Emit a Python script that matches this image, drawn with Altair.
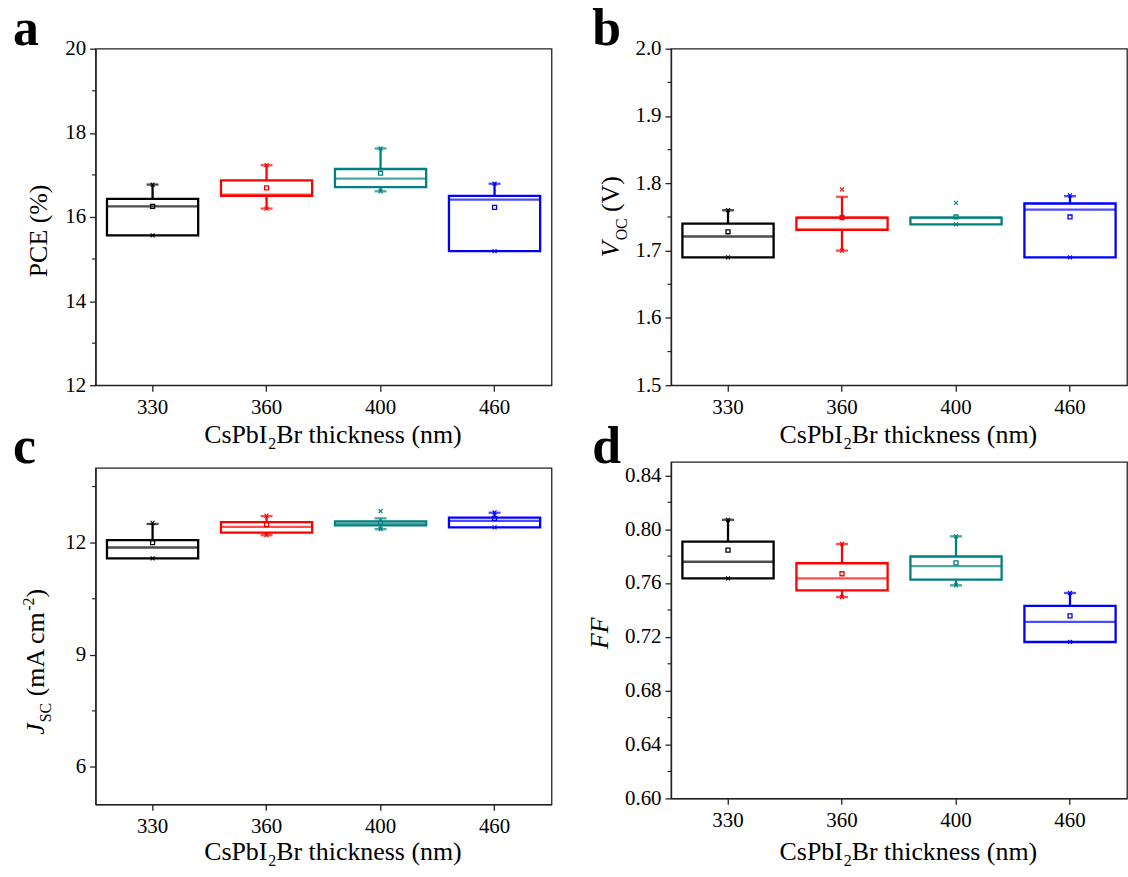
import altair as alt
import pandas as pd

FONT = "Liberation Serif"
W, H = 458, 338
BOXW = 0.8 * W / 4

cats = ["330", "360", "400", "460"]
colors = ["#000000", "#FF0000", "#008080", "#0000FF"]

# (a) PCE (%)
pce_q1 = [15.56, 16.50, 16.71, 15.19]
pce_med = [16.25, 16.53, 16.91, 16.41]
pce_q3 = [16.43, 16.87, 17.14, 16.50]
pce_wlo = [15.56, 16.20, 16.61, 15.19]
pce_whi = [16.77, 17.23, 17.63, 16.79]
pce_mean = [16.25, 16.69, 17.04, 16.23]
pce_min = [15.56, 16.20, 16.61, 15.19]
pce_max = [16.77, 17.23, 17.63, 16.79]

# (b) Voc (V)
voc_q1 = [1.690, 1.731, 1.739, 1.690]
voc_med = [1.721, 1.749, 1.749, 1.761]
voc_q3 = [1.740, 1.749, 1.749, 1.770]
voc_wlo = [1.690, 1.700, 1.739, 1.690]
voc_whi = [1.760, 1.780, 1.749, 1.781]
voc_mean = [1.728, 1.749, 1.750, 1.750]
voc_min = [1.690, 1.700, 1.739, 1.690]
voc_max = [1.760, 1.791, 1.771, 1.782]

# (c) Jsc (mA cm-2)
jsc_q1 = [11.58, 12.27, 12.46, 12.41]
jsc_med = [11.87, 12.42, 12.51, 12.58]
jsc_q3 = [12.07, 12.55, 12.57, 12.67]
jsc_wlo = [11.58, 12.20, 12.36, 12.41]
jsc_whi = [12.50, 12.71, 12.65, 12.80]
jsc_mean = [12.00, 12.48, 12.52, 12.65]
jsc_min = [11.58, 12.20, 12.36, 12.41]
jsc_max = [12.53, 12.72, 12.84, 12.81]

# (d) FF
ff_q1 = [0.7634, 0.7546, 0.7625, 0.7162]
ff_med = [0.7758, 0.7634, 0.7725, 0.7312]
ff_q3 = [0.7908, 0.7747, 0.7797, 0.7430]
ff_wlo = [0.7634, 0.7496, 0.7583, 0.7162]
ff_whi = [0.8070, 0.7890, 0.7947, 0.7526]
ff_mean = [0.7844, 0.7669, 0.7750, 0.7356]
ff_min = [0.7634, 0.7496, 0.7583, 0.7162]
ff_max = [0.8070, 0.7890, 0.7947, 0.7526]

one = pd.DataFrame({"k": [0]})
SW = 2.3


def make_df(q1, med, q3, wlo, whi, mean, mn, mx):
    return pd.DataFrame(dict(t=cats, q1=q1, med=med, q3=q3, wlo=wlo, whi=whi,
                             mean=mean, mn=mn, mx=mx))


def txt(s, x, y, size=26, align="left", angle=0, style="normal", weight="normal", baseline="alphabetic"):
    return alt.Chart(one).mark_text(
        text=s, align=align, baseline=baseline, angle=angle, font=FONT,
        fontSize=size, fontStyle=style, fontWeight=weight, color="black"
    ).encode(x=alt.value(x), y=alt.value(y))


def anchor(x, y):
    return alt.Chart(one).mark_rect(color="white", opacity=0).encode(
        x=alt.value(x), x2=alt.value(x + 1), y=alt.value(y), y2=alt.value(y + 1))


def panel(df, dom, ticks, minor, fmt, title_layers, letter, lx, ly, xt_dy, extra=()):
    xenc = alt.X("t:N", scale=alt.Scale(domain=cats, paddingInner=0, paddingOuter=0),
                 axis=alt.Axis(title=None, labelAngle=0, labelPadding=5))
    ysc = alt.Scale(domain=dom, nice=False, zero=False)
    yax = alt.Axis(title=None, values=ticks, format=fmt, labelPadding=4)
    col = alt.Color("t:N", scale=alt.Scale(domain=cats, range=colors), legend=None)

    def Y(f):
        return alt.Y(f, scale=ysc, axis=yax)

    base = alt.Chart(df)
    box = base.mark_bar(filled=False, strokeWidth=SW, width={"band": 0.8}).encode(
        x=xenc, y=Y("q1:Q"), y2="q3:Q", color=col)
    med = base.mark_tick(orient="horizontal", size=BOXW, thickness=SW).encode(
        x=xenc, y=Y("med:Q"), color=col)
    wup = base.mark_rule(strokeWidth=SW).encode(x=xenc, y=Y("q3:Q"), y2="whi:Q", color=col)
    wdn = base.mark_rule(strokeWidth=SW).encode(x=xenc, y=Y("wlo:Q"), y2="q1:Q", color=col)
    cap_up = base.transform_filter("datum.whi > datum.q3").mark_tick(
        orient="horizontal", size=12, thickness=SW).encode(x=xenc, y=Y("whi:Q"), color=col)
    cap_dn = base.transform_filter("datum.wlo < datum.q1").mark_tick(
        orient="horizontal", size=12, thickness=SW).encode(x=xenc, y=Y("wlo:Q"), color=col)
    mean = base.mark_point(shape="square", size=16, filled=False, strokeWidth=1.3, opacity=1).encode(
        x=xenc, y=Y("mean:Q"), color=col)
    ext = base.transform_fold(["mn", "mx"], as_=["key", "v"]).mark_point(
        shape="M-1,-1L1,1M-1,1L1,-1", size=16, strokeWidth=1.1, filled=False, opacity=1).encode(
        x=xenc, y=Y("v:Q"), color=col)
    mticks = alt.Chart(pd.DataFrame({"v": minor})).mark_rule(color="#222", strokeWidth=1.2).encode(
        y=Y("v:Q"), x=alt.value(-3.5), x2=alt.value(0))

    layers = [mticks, box, med, wup, wdn, cap_up, cap_dn, mean, ext]
    # x-axis title: CsPbI2Br thickness (nm)
    layers += [
        txt("CsPbI", 172.6, H + xt_dy, align="right"),
        txt("2", 173.5, H + xt_dy + 6, size=16),
        txt("Br thickness (nm)", 181.5, H + xt_dy),
    ]
    layers += title_layers
    layers.append(txt(letter, lx, ly, size=52, weight="bold"))
    layers += list(extra)
    return alt.layer(*layers).properties(width=W, height=H)


pa = panel(make_df(pce_q1, pce_med, pce_q3, pce_wlo, pce_whi, pce_mean, pce_min, pce_max),
           [12, 20], [12, 14, 16, 18, 20], [13, 15, 17, 19], "d",
           [txt("PCE (%)", -49, 183, align="center", angle=270)],
           "a", -83, -4, 58, extra=[anchor(-95, -46), anchor(W + 10, -46)])

pb = panel(make_df(voc_q1, voc_med, voc_q3, voc_wlo, voc_whi, voc_mean, voc_min, voc_max),
           [1.5, 2.0], [1.5, 1.6, 1.7, 1.8, 1.9, 2.0], [1.55, 1.65, 1.75, 1.85, 1.95], ".1f",
           [txt("V", -52, 209.5, angle=270, style="italic"),
            txt("OC", -44, 192.5, size=16, angle=270),
            txt("(V)", -52, 164, angle=270)],
           "b", -79, -4, 58, extra=[anchor(-101, -46)])

pc = panel(make_df(jsc_q1, jsc_med, jsc_q3, jsc_wlo, jsc_whi, jsc_mean, jsc_min, jsc_max),
           [5, 14], [6, 9, 12], [7.5, 10.5, 13.5], "d",
           [txt("J", -52, 268, angle=270, style="italic"),
            txt("SC", -45, 255.5, size=16, angle=270),
            txt("(mA cm", -52, 229.5, angle=270),
            txt("-2", -62, 143.5, size=16, angle=270),
            txt(")", -52, 130.2, angle=270)],
           "c", -83, -5, 56)

pd_ = panel(make_df(ff_q1, ff_med, ff_q3, ff_wlo, ff_whi, ff_mean, ff_min, ff_max),
            [0.60, 0.85], [0.60, 0.64, 0.68, 0.72, 0.76, 0.80, 0.84],
            [0.62, 0.66, 0.70, 0.74, 0.78, 0.82], ".2f",
            [txt("FF", -63, 172, align="center", angle=270, style="italic")],
            "d", -79, 1, 62)

col1 = alt.vconcat(pa, pc, spacing=83, bounds="flush")
col2 = alt.vconcat(pb, pd_, spacing=77, bounds="flush")
chart = alt.hconcat(col1, col2, spacing=6, bounds="full").properties(
    padding={"left": 0, "top": 0, "right": 0, "bottom": 0}
).configure_view(
    stroke="#222", strokeWidth=1.3
).configure_axis(
    labelFont=FONT, labelFontSize=21, labelColor="black", tickColor="#222",
    tickSize=6, tickWidth=1.3, domainColor="#222", domainWidth=1.3, grid=False
)

chart.save("out.html", embed_options={"renderer": "svg", "actions": False})
